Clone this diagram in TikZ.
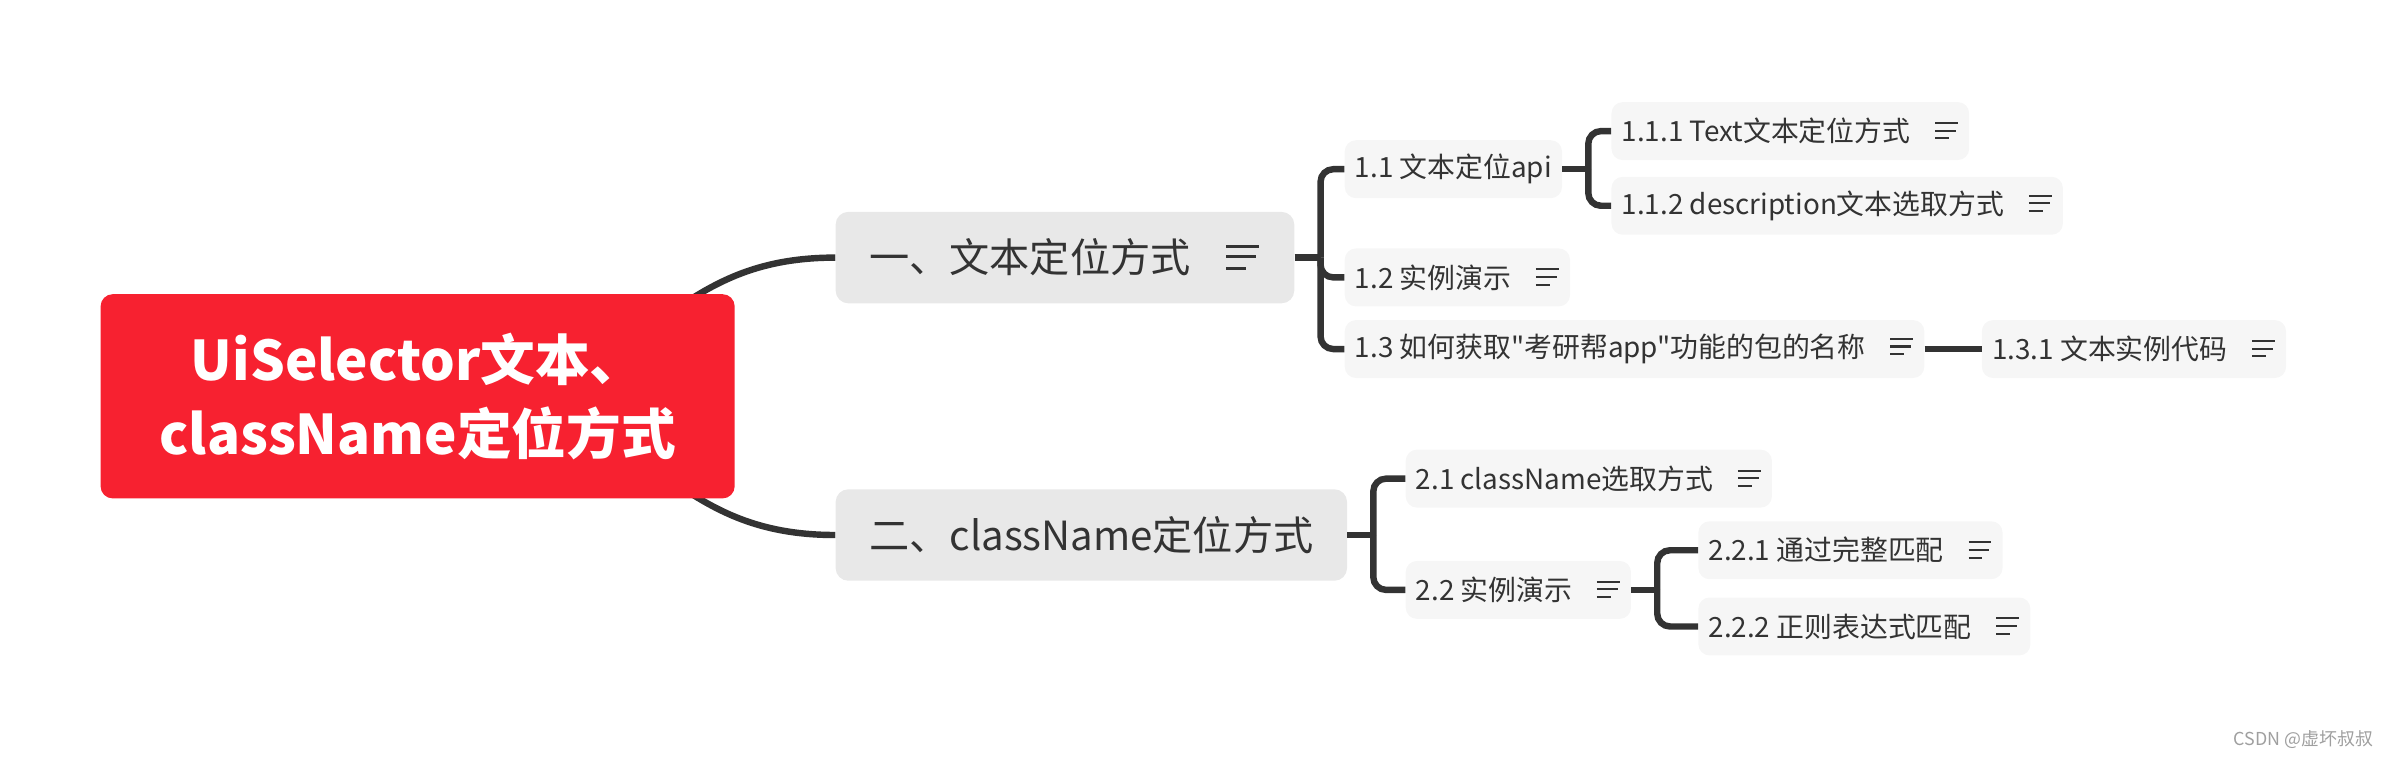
\documentclass[tikz,border=0pt]{standalone}
\usepackage{fontspec}
\setmainfont{Noto Sans CJK SC}[Ligatures=TeXOff]
\usetikzlibrary{positioning}
\pgfdeclarelayer{bg}
\pgfsetlayers{bg,main}
\definecolor{rootred}{RGB}{247,33,48}
\definecolor{ink}{RGB}{51,51,51}
\definecolor{topicgray}{RGB}{232,232,232}
\definecolor{subgray}{RGB}{246,246,246}
\newcommand{\noteicon}{\hspace{0.85em}\tikz[x=1em,y=1em,baseline=0pt]\draw[ink,line width=0.075em] (0,0.67)--(0.82,0.67) (0,0.4)--(0.75,0.4) (0,0.12)--(0.5,0.12);\hspace{0.25em}}

\begin{document}
\begin{tikzpicture}[x=0.03cm,y=-0.03cm,
  rootbox/.style={fill=rootred,text=white,rounded corners=0.24cm,minimum width=12.48cm,minimum height=4.02cm,align=center,font=\bfseries\fontsize{30.6}{41.7}\selectfont},
  topic/.style={fill=topicgray,text=ink,rounded corners=0.25cm,anchor=west,minimum height=1.8cm,inner xsep=0.66cm,font=\fontsize{22.5}{26}\selectfont},
  sub/.style={fill=subgray,text=ink,rounded corners=0.22cm,anchor=west,minimum height=1.14cm,inner xsep=0.2cm,font=\fontsize{15.6}{18}\selectfont},
  link/.style={draw=ink,line width=3.6pt},
  branch/.style={link,rounded corners=0.25cm}]

\useasboundingbox (0,0) rectangle (1568,497);

\node[rootbox] (root) at (274,260) {UiSelector文本、\\className定位方式};

\node[topic] (t1) at (548,169) {一、文本定位方式\noteicon};
\node[topic] (t2) at (548,351) {二、className定位方式};

\node[sub] (s11) at (882,111) {1.1 文本定位api};
\node[sub] (s12) at (882,182) {1.2 实例演示\noteicon};
\node[sub] (s13) at (882,229) {1.3 如何获取"考研帮app"功能的包的名称\noteicon};
\node[sub] (s111) at (1057,86) {1.1.1 Text文本定位方式\noteicon};
\node[sub] (s112) at (1057,135) {1.1.2 description文本选取方式\noteicon};
\node[sub] (s131) at (1300,229) {1.3.1 文本实例代码\noteicon};

\node[sub] (s21) at (922,314) {2.1 className选取方式\noteicon};
\node[sub] (s22) at (922,387) {2.2 实例演示\noteicon};
\node[sub] (s221) at (1114,361) {2.2.1 通过完整匹配\noteicon};
\node[sub] (s222) at (1114,411) {2.2.2 正则表达式匹配\noteicon};

\node[text=gray!75,anchor=east,font=\fontsize{10}{12}\selectfont] (mark) at (1561,485) {CSDN @虚坏叔叔};

\begin{pgfonlayer}{bg}
\draw[link] (root.center) .. controls +(160,0) and +(-120,0) .. (t1.west);
\draw[link] (root.center) .. controls +(160,0) and +(-120,0) .. (t2.west);
\end{pgfonlayer}

\coordinate[right=0.51cm of t1] (j1);
\coordinate[right=0.51cm of s11] (j11);
\coordinate[right=0.51cm of t2] (j2);
\coordinate[right=0.51cm of s22] (j22);

\draw[link] (t1.east) -- (j1);
\foreach \c in {s11,s12,s13} \draw[branch] (j1) |- (\c.west);
\draw[link] (s11.east) -- (j11);
\foreach \c in {s111,s112} \draw[branch] (j11) |- (\c.west);
\draw[link] (s13.east) -- (s131.west);

\draw[link] (t2.east) -- (j2);
\foreach \c in {s21,s22} \draw[branch] (j2) |- (\c.west);
\draw[link] (s22.east) -- (j22);
\foreach \c in {s221,s222} \draw[branch] (j22) |- (\c.west);

\end{tikzpicture}
\end{document}
